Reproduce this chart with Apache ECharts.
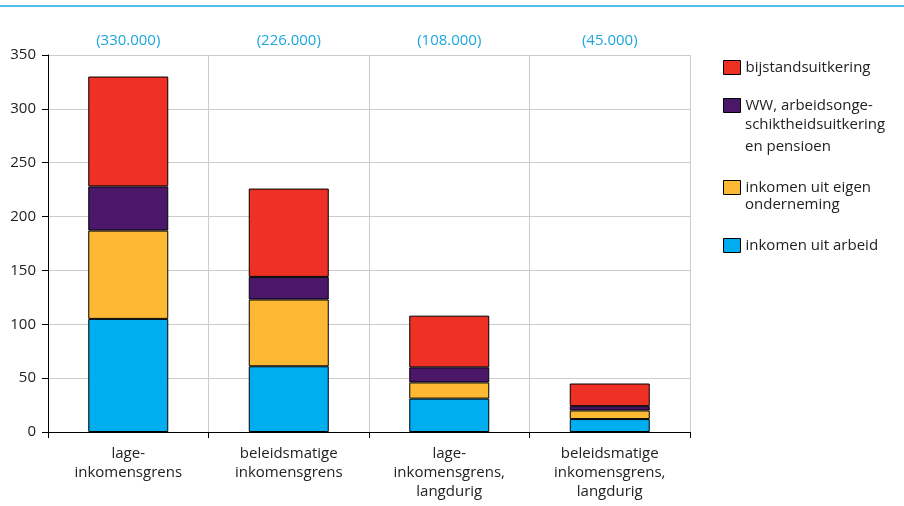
<!DOCTYPE html>
<html>
<head>
<meta charset="UTF-8">
<script src="https://cdn.jsdelivr.net/npm/echarts@6/dist/echarts.min.js"></script>
<style>html,body{margin:0;background:#fff}#c{width:904px;height:506px}</style>
</head>
<body>
<div id="c"></div>
<script>
var categories = ['lage-\ninkomensgrens', 'beleidsmatige\ninkomensgrens', 'lage-\ninkomensgrens,\nlangdurig', 'beleidsmatige\ninkomensgrens,\nlangdurig'];
var totals = ['(330.000)', '(226.000)', '(108.000)', '(45.000)'];
var arbeid = [105, 61, 31, 12];
var onderneming = [82, 62, 15, 8];
var ww = [41, 21, 14, 4];
var bijstand = [102, 82, 48, 21];
var yTicks = [0, 50, 100, 150, 200, 250, 300, 350];

var font = 'Open Sans';
function s(name, data, color) {
  return {name: name, type: 'bar', stack: 't', data: data, barWidth: 80,
    itemStyle: {color: color, borderColor: '#000', borderWidth: 1}};
}
function leg(name, top, first) {
  return {orient: 'vertical', left: 718, top: top, itemWidth: 17, itemHeight: 14, data: [name],
    icon: 'rect', formatter: function () { return first; }, selectedMode: false,
    textStyle: {fontFamily: font, fontSize: 15, color: '#222'},
    itemStyle: {borderColor: '#000', borderWidth: 1}};
}
var chart = echarts.init(document.getElementById('c'));
chart.setOption({
  animation: false,
  textStyle: {fontFamily: font},
  grid: {left: 48, right: 214, top: 55, bottom: 74},
  legend: [
    leg('bijstandsuitkering', 55, 'bijstandsuitkering'),
    leg('WW, arbeidsongeschiktheidsuitkering en pensioen', 93, 'WW, arbeidsonge-'),
    leg('inkomen uit eigen onderneming', 175, 'inkomen uit eigen'),
    leg('inkomen uit arbeid', 233, 'inkomen uit arbeid')
  ],
  graphic: [
    {type: 'line', shape: {x1: 0, y1: 6, x2: 904, y2: 6}, style: {stroke: '#1ba6e0', lineWidth: 1.5}},
    {type: 'text', left: 745, top: 114, style: {text: 'schiktheidsuitkering\nen pensioen', font: '15px "Open Sans"', fill: '#222', lineHeight: 22}},
    {type: 'text', left: 745, top: 197, style: {text: 'onderneming', font: '15px "Open Sans"', fill: '#222'}}
  ],
  xAxis: [{
    type: 'category', data: categories,
    axisLine: {lineStyle: {color: '#000'}},
    axisTick: {show: true, length: 6, lineStyle: {color: '#000'}},
    splitLine: {show: true, lineStyle: {color: '#ccc'}},
    axisLabel: {fontSize: 15, color: '#222', lineHeight: 19, margin: 12}
  }, {
    type: 'category', data: totals, position: 'top',
    axisLine: {show: false}, axisTick: {show: false},
    axisLabel: {fontSize: 15, color: '#1ba6e0', margin: 7}
  }],
  yAxis: {
    type: 'value', min: 0, max: 350, interval: 50,
    axisLine: {show: true, lineStyle: {color: '#000'}},
    axisTick: {show: true, length: 6, lineStyle: {color: '#000'}},
    splitLine: {lineStyle: {color: '#ccc'}},
    axisLabel: {fontSize: 15, color: '#222', margin: 12,
      formatter: function (v) { return yTicks.indexOf(v) >= 0 ? v : ''; }}
  },
  series: [
    s('inkomen uit arbeid', arbeid, '#00aeef'),
    s('inkomen uit eigen onderneming', onderneming, '#fdb933'),
    s('WW, arbeidsongeschiktheidsuitkering en pensioen', ww, '#4b1869'),
    s('bijstandsuitkering', bijstand, '#ee3124')
  ]
});
</script>
</body>
</html>
